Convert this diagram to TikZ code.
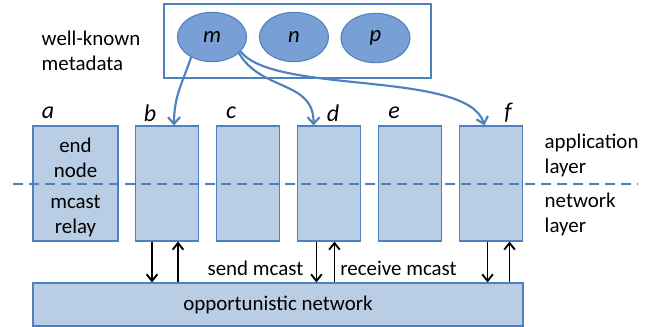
\documentclass[tikz,border=0pt]{standalone}
\usepackage{fontspec}
\setmainfont{Carlito}
\usetikzlibrary{arrows.meta,shapes.geometric}

\definecolor{boxblue}{RGB}{185,205,229}
\definecolor{edgeblue}{RGB}{79,129,189}
\definecolor{metablue}{RGB}{120,160,214}

\begin{document}
\begin{tikzpicture}[x=0.75pt,y=-0.75pt,
    every node/.style={font=\fontsize{15.7}{18.8}\selectfont},
    host/.style={draw=edgeblue,fill=boxblue,line width=0.8pt,inner sep=0pt,
      minimum width=47.25pt,minimum height=86.25pt,align=center},
    meta/.style={ellipse,draw=edgeblue,fill=metablue,line width=0.8pt,inner sep=0pt,
      minimum width=51.75pt,minimum height=37pt,font=\fontsize{17}{20}\selectfont\itshape},
    tag/.style={font=\fontsize{18}{20}\selectfont\itshape},
    pull/.style={draw=edgeblue,line width=1.6pt,-{Straight Barb[length=5pt,width=9pt]}},
    pass/.style={line width=1.4pt,-{Straight Barb[length=5pt,width=8pt]}}]
  \useasboundingbox (0,0) rectangle (651,327);

  % metadata
  \node[draw=edgeblue,line width=0.8pt,minimum width=200.25pt,minimum height=55.5pt] (store) at (297.5,41) {};
  \node[meta] (m) at (212,37) {m};
  \node[meta] (n) at (294,37) {n};
  \node[meta] (p) at (375.5,38) {p};
  \node[anchor=west,align=left] (wk) at (37,50.5) {well-known\\metadata};

  % hosts
  \node[host,minimum width=63.75pt] (a) at (75.5,183.5) {};
  \foreach[count=\xi,evaluate={86+81*\xi} as \px] \x in {b,c,d,e,f} {
    \node[host] (\x) at (\px,183.5) {};
  }
  \foreach \x/\lx in {a/48,b/150,c/231,d/333,e/394,f/508} {
    \node[tag] (lbl-\x) at (\lx,113) {\x};
  }
  \node[align=center] (endnode) at (75.5,157.5) {end\\node};
  \node[align=center] (relay) at (75.5,216) {mcast\\relay};

  % layers
  \draw[edgeblue,line width=1.5pt,dash pattern=on 7.5pt off 4.5pt] (13,184) -- (638,184);
  \node[anchor=west,align=left] (app) at (540,155) {application\\layer};
  \node[anchor=west,align=left] (netl) at (540,214.5) {network\\layer};

  % network
  \node[draw=edgeblue,fill=boxblue,line width=0.8pt,minimum width=367.5pt,minimum height=32.25pt] (net) at (278,304.5) {opportunistic network};
  \foreach \x/\dn/\up in {b/-11.25/8.25,d/-9.4/4.1,f/-2.6/13.9} {
    \draw[pass] ([xshift=\dn pt]\x.south) -- ([xshift=\dn pt]\x.south |- net.north);
    \draw[pass] ([xshift=\up pt]\x.south |- net.north) -- ([xshift=\up pt]\x.south);
  }
  \node (send) at (255.5,268) {send mcast};
  \node (recv) at (398.5,268) {receive mcast};

  % lookups
  \draw[pull] (m.-136) .. controls (183,82) and (174,95) .. ([xshift=5.25pt]b.north);
  \draw[pull] (m.-31) .. controls (262,92) and (314,80) .. ([xshift=-11.6pt]d.north);
  \draw[pull] (m.-27) .. controls (275,95) and (468,70) .. ([xshift=-4.9pt]f.north);
\end{tikzpicture}
\end{document}
